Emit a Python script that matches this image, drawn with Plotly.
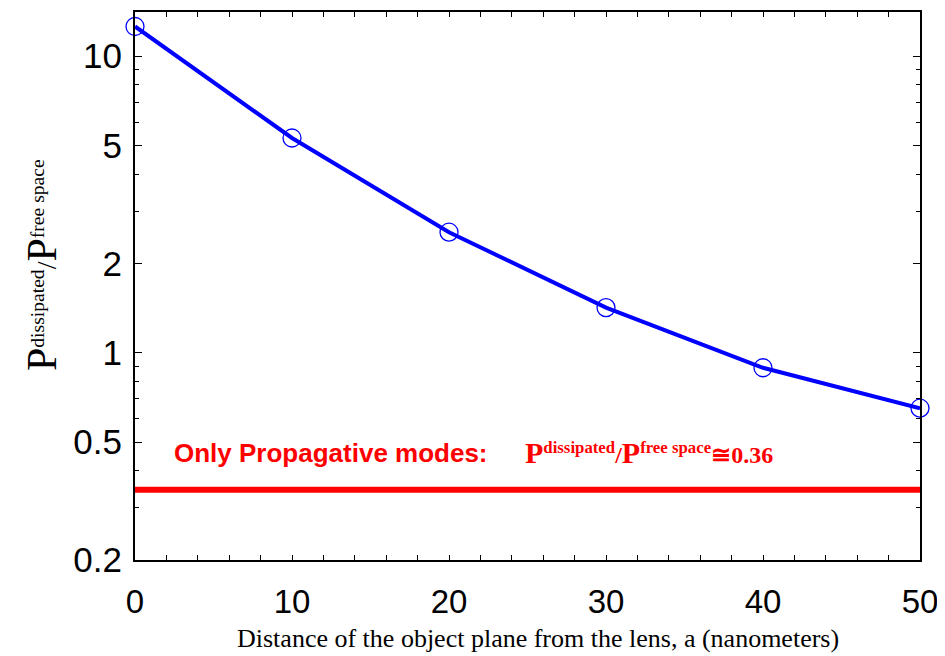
import plotly.graph_objects as go
import numpy as np

x_vals = [0, 10, 20, 30, 40, 50]
p_ratio = [12.6, 5.3, 2.55, 1.42, 0.89, 0.65]
prop_level = 0.345
x_ticks = [0, 10, 20, 30, 40, 50]
y_ticks = [0.2, 0.5, 1, 2, 5, 10]
y_tick_text = ["0.2", "0.5", "1", "2", "5", "10"]

fig = go.Figure()
fig.add_trace(go.Scatter(x=[0, 50], y=[prop_level, prop_level], mode="lines",
                         line=dict(color="#ff0000", width=6), showlegend=False, cliponaxis=False))
fig.add_trace(go.Scatter(x=x_vals, y=p_ratio, mode="lines",
                         line=dict(color="#0000ff", width=4), showlegend=False))
fig.add_trace(go.Scatter(x=x_vals, y=p_ratio, mode="markers",
                         marker=dict(symbol="circle-open", size=18, color="#0000ff", line=dict(width=1.3)),
                         showlegend=False, cliponaxis=False))

fig.add_annotation(x=(172 - 135) / 785 * 50, xref="x", y=np.log10(0.46), yref="y", xanchor="left", yanchor="middle",
                   text="<b>Only Propagative modes:</b>", showarrow=False,
                   font=dict(family="Liberation Sans", size=26, color="#ff0000"))
fig.add_annotation(x=(523 - 135) / 785 * 50, xref="x", y=np.log10(0.46), yref="y", xanchor="left", yanchor="middle",
                   text="<b><span style='font-size:30px'>P</span><sup>dissipated</sup>/<span style='font-size:30px'>P</span><sup>free space</sup>≅0.36</b>",
                   showarrow=False,
                   font=dict(family="Liberation Serif", size=24, color="#ff0000"))

# y-axis title (rotated annotation, matching the reference's off-centre position)
fig.add_annotation(x=(42 - 135) / 785, xref="paper", y=(560 - 264) / 550, yref="paper",
                   xanchor="center", yanchor="middle", textangle=-90, showarrow=False,
                   text="<span style='font-size:42px'>P</span><sup>dissipated</sup>/<span style='font-size:42px'>P</span><sup>free space</sup>",
                   font=dict(family="Liberation Serif", size=28, color="black"))
# x-axis title
fig.add_annotation(x=(538 - 135) / 785, xref="paper", y=-(639 - 560) / 550, yref="paper",
                   xanchor="center", yanchor="middle", showarrow=False,
                   text="Distance of the object plane from the lens, a (nanometers)",
                   font=dict(family="Liberation Serif", size=26, color="black"))

fig.update_xaxes(range=[0, 50], tickvals=x_ticks, ticks="inside", ticklen=0,
                 showline=True, linecolor="black", linewidth=2, mirror="allticks",
                 showgrid=False, zeroline=False, ticklabelstandoff=11,
                 tickfont=dict(family="Liberation Sans", size=33, color="black"),
                 minor=dict(dtick=2, ticks="inside", ticklen=5, tickcolor="black", showgrid=False))
fig.update_yaxes(type="log", range=[np.log10(0.2), np.log10(14.1)], tickvals=y_ticks,
                 ticktext=y_tick_text,
                 ticks="inside", ticklen=7, tickcolor="black",
                 showline=True, linecolor="black", linewidth=2, mirror="allticks",
                 showgrid=False, zeroline=False, ticklabelstandoff=4,
                 tickfont=dict(family="Liberation Sans", size=35, color="black"),
                 minor=dict(tickvals=[0.3, 0.4, 0.6, 0.7, 0.8, 0.9, 3, 4, 6, 7, 8, 9], ticks="inside",
                            ticklen=4, tickcolor="black", showgrid=False))

fig.update_layout(width=945, height=656, margin=dict(l=127, r=33, t=2, b=104),
                  plot_bgcolor="white", paper_bgcolor="white")
fig.write_html("out.html")
